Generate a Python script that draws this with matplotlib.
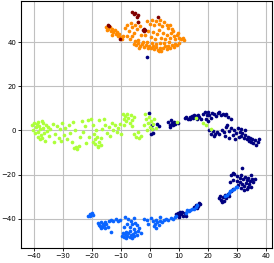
import numpy as np
from matplotlib import pyplot as plt

# embedding points per class (x, y)
navy_pts = [
    (-1.0, 33.5),
    (-0.2, 7.8), (0.6, 2.5), (0.85, 0.7), (2.4, 2.8), (3.3, 2.2), (0.4, -1.7), (1.2, -1.0),
    (6.3, 3.8), (6.8, 2.6), (7.2, 4.6), (7.6, 3.2), (8.0, 2.4), (8.4, 4.0), (8.7, 2.8), (7.0, 1.8), (9.7, 3.4),
    (12.0, 5.6), (12.6, 6.0), (13.2, 5.4), (13.8, 6.2), (14.4, 6.6), (15.0, 5.8), (15.4, 7.0), (15.8, 6.4),
    (16.2, 5.2), (16.6, 6.8), (17.0, 6.0), (17.6, 5.4), (14.0, 5.0),
    (18.4, 7.6), (19.0, 8.2), (19.6, 6.8), (20.2, 8.6), (20.6, 7.2), (21.0, 5.8), (21.6, 8.0), (22.2, 7.4),
    (22.8, 6.6), (23.4, 7.8), (24.0, 8.2), (24.6, 7.0), (25.2, 7.6), (25.8, 6.8), (26.4, 7.4), (27.0, 6.2),
    (28.0, 5.4), (19.4, 5.2), (20.0, 4.4),
    (20.4, 0.4), (21.0, -1.4), (21.8, -0.2), (22.4, -1.8), (23.2, -0.6), (24.0, -1.6), (24.8, 0.2), (25.6, -0.8),
    (26.2, 1.4), (26.8, 2.6), (27.4, -0.4), (28.0, 1.0), (28.6, -2.0), (29.2, 0.2), (29.8, -1.2), (30.4, 1.2),
    (31.0, -0.6), (31.6, -2.4), (32.0, -1.0), (32.4, -3.2), (33.0, -2.0), (33.4, -4.0), (33.8, -2.8),
    (34.2, -4.8), (34.6, -3.4), (35.0, -5.2), (35.4, -4.0), (35.8, -5.6), (36.2, -4.4), (36.6, -6.8),
    (37.2, -5.0), (37.6, -3.8), (30.8, -3.0), (29.4, -4.0), (31.4, 0.6), (33.0, 0.4), (27.2, -3.2),
    (26.0, -2.4), (22.0, -2.6),
    (31.7, -16.9), (28.8, -19.4), (29.0, -19.6), (30.2, -20.6), (31.0, -21.4), (31.6, -20.2), (32.2, -22.0),
    (32.8, -21.0), (33.4, -22.6), (34.0, -21.6), (34.6, -23.0), (35.2, -22.2), (35.8, -23.4), (36.4, -21.8),
    (31.2, -23.4), (32.0, -24.2), (32.6, -25.0), (33.2, -23.8), (33.8, -25.4), (34.4, -24.4), (35.0, -25.8),
    (30.6, -24.6), (31.4, -26.0), (32.4, -27.0), (33.6, -26.6), (30.0, -22.8), (28.6, -22.4), (28.2, -20.0),
    (34.8, -20.4), (27.7, -23.2),
    (24.0, -30.6), (24.6, -31.4), (25.2, -30.2), (25.6, -31.8), (26.0, -29.4), (26.4, -30.8), (27.0, -28.6),
    (27.4, -29.8), (24.4, -29.6), (25.0, -32.2), (28.0, -27.6), (28.6, -26.4),
    (9.6, -37.4), (10.0, -38.2), (10.4, -36.8), (10.8, -37.8), (11.2, -37.0), (11.6, -38.6), (12.0, -37.6),
    (10.2, -39.0), (12.4, -38.8), (9.2, -38.0), (15.4, -34.6), (16.0, -33.6), (16.6, -34.2), (17.0, -32.8),
    (17.4, -33.4), (16.2, -35.0),
]

blue_pts = [
    (-21.2, -38.6), (-20.6, -37.8), (-20.0, -37.4), (-19.8, -38.2), (-20.8, -38.9),
    (-17.8, -42.0), (-17.4, -42.8), (-17.0, -41.4), (-16.6, -43.6), (-16.2, -42.2), (-15.8, -43.0),
    (-15.4, -41.6), (-15.0, -42.6), (-14.6, -43.8), (-14.2, -41.0), (-16.8, -44.2), (-17.2, -43.2),
    (-15.6, -44.4), (-13.4, -46.2),
    (-13.4, -40.6), (-12.6, -41.0), (-11.8, -40.2), (-11.0, -40.8), (-10.2, -40.4), (-8.6, -39.2),
    (-7.6, -40.0), (-6.4, -40.8), (-5.6, -39.6),
    (-8.8, -43.6), (-7.8, -42.6), (-7.0, -43.8), (-6.2, -42.4), (-5.4, -44.6), (-4.6, -43.0), (-3.8, -44.2),
    (-3.2, -46.4), (-5.0, -41.8),
    (-9.6, -47.6), (-9.0, -48.4), (-8.6, -47.0), (-8.2, -48.8), (-7.8, -47.8), (-7.4, -46.4), (-7.0, -48.2),
    (-6.6, -47.2), (-6.2, -48.6), (-5.8, -46.8), (-5.4, -47.8), (-5.0, -46.2), (-4.6, -47.4), (-4.2, -45.6),
    (-8.4, -46.0), (-6.8, -45.4), (-9.2, -46.6),
    (-2.0, -40.0), (-1.0, -40.6), (0.4, -39.8), (1.0, -41.2), (1.4, -43.4), (1.8, -42.2), (2.2, -44.0),
    (2.6, -41.6), (3.0, -43.0), (3.6, -40.8), (4.2, -41.6), (4.8, -40.6), (5.6, -40.0), (6.4, -40.4),
    (7.2, -39.6), (8.0, -40.2), (8.6, -39.2), (3.4, -39.4), (2.0, -40.4), (-0.6, -42.2),
    (9.0, -38.8), (12.6, -37.4), (13.4, -36.6), (14.0, -36.0), (14.6, -35.4), (15.2, -35.6), (15.8, -34.8),
    (16.4, -33.6), (13.0, -36.2),
    (26.6, -29.2), (27.2, -28.4), (27.8, -27.6), (28.4, -27.0), (29.0, -26.4), (29.6, -25.8), (30.2, -25.4),
    (25.8, -29.8),
]

green_pts = [
    (-40.8, 2.6), (-40.0, 3.4), (-39.4, 1.5), (-39.0, 3.0), (-38.5, -0.5), (-38.2, 2.0), (-37.8, 0.8),
    (-37.5, -2.0), (-37.0, 3.2), (-36.8, 1.0), (-36.5, -1.2), (-36.0, 2.4), (-35.6, -0.2), (-35.2, 1.6),
    (-38.8, -2.8), (-38.0, -4.0), (-37.2, -3.2), (-36.2, -4.6), (-39.6, -1.2), (-40.3, 0.2), (-35.0, -2.6),
    (-34.5, 0.6), (-38.6, 4.0), (-37.4, 4.2),
    (-33.5, 3.0), (-32.8, -1.5), (-32.0, 2.2), (-31.5, -3.5), (-31.0, 0.5), (-30.4, 3.4), (-29.8, -2.0),
    (-29.2, 1.2), (-28.6, -4.0), (-28.0, 2.6), (-27.5, -1.0), (-27.0, -5.4), (-26.4, 3.8), (-25.8, 0.2),
    (-25.5, -7.6), (-25.0, -8.2), (-24.5, -7.2), (-24.2, -3.0), (-23.6, 4.2), (-23.0, -0.8), (-22.4, 2.0),
    (-22.0, -5.6), (-21.4, 4.6), (-21.0, -2.8), (-26.2, -8.0), (-30.8, -4.6), (-33.0, -5.4),
    (-20.2, 5.0), (-19.6, 2.6), (-19.4, -1.5), (-19.0, -4.0), (-18.8, -6.2), (-18.4, -2.8), (-18.0, -7.0),
    (-17.6, -5.0), (-17.4, 4.8), (-17.0, -3.2), (-16.8, -6.4), (-16.4, 0.6), (-16.0, 5.0), (-15.6, 2.4),
    (-19.8, -5.4), (-18.6, 0.4), (-17.8, -7.6),
    (-14.8, -1.0), (-14.2, 1.8), (-13.6, -2.4), (-13.0, 3.6), (-12.6, 0.4), (-12.0, 2.4), (-11.4, -0.6),
    (-11.0, 1.2), (-10.4, 3.0), (-10.0, -1.8),
    (-9.4, 7.4), (-9.0, 5.2), (-8.6, 6.6), (-8.2, 4.4), (-7.8, 7.6), (-7.4, 5.8), (-7.0, 3.6), (-6.6, 6.8),
    (-6.0, 4.8), (-5.6, 6.0), (-8.8, 2.4), (-6.2, 2.0),
    (-5.4, -1.6), (-4.8, -2.8), (-3.6, -3.2), (-3.0, -2.4), (-4.2, -0.6),
    (-1.6, 7.6), (-1.2, 5.4), (-0.8, 3.6), (-0.4, 6.2), (0.0, 1.8), (0.4, 4.2), (0.8, 0.6), (1.2, 2.8),
    (1.6, 5.0), (2.0, 1.0), (-1.0, 0.2), (-2.0, 2.6),
    (9.3, 3.7), (15.8, 5.5), (18.4, 3.4), (19.4, 2.6), (21.1, 0.7),
]

orange_pts = [
    (-15.0, 46.8), (-14.3, 46.2), (-13.8, 46.9), (-13.5, 45.3), (-13.0, 46.0), (-12.6, 44.6), (-12.2, 45.5),
    (-11.8, 43.8), (-11.3, 44.7), (-11.0, 42.9), (-10.6, 43.6), (-10.1, 42.2), (-9.6, 41.5), (-9.2, 42.8),
    (-14.8, 45.6), (-12.9, 43.2),
    (-8.5, 46.5), (-7.8, 47.8), (-7.2, 45.2), (-6.6, 48.6), (-6.0, 46.9), (-5.5, 44.3), (-5.0, 48.0),
    (-4.6, 46.0), (-4.1, 49.2), (-3.5, 47.2), (-3.0, 43.5), (-8.0, 43.0), (-7.0, 41.5), (-6.2, 42.8),
    (-1.0, 49.8), (0.0, 48.5), (0.6, 50.3), (1.5, 47.6), (2.2, 49.6), (3.0, 48.3), (3.6, 50.0), (4.3, 47.2),
    (5.0, 49.1), (5.8, 48.0), (6.4, 46.6), (7.0, 47.9), (7.6, 45.8),
    (-1.5, 43.2), (-0.8, 45.0), (0.3, 42.6), (1.0, 44.8), (1.8, 41.5), (2.5, 43.9), (3.2, 45.6), (3.8, 42.0),
    (4.6, 44.3), (5.3, 41.4), (6.0, 43.5), (6.8, 42.1), (7.4, 44.0), (8.2, 42.8), (8.8, 41.6), (9.4, 43.1),
    (10.0, 42.0), (10.6, 41.5), (11.3, 41.8), (11.8, 41.2), (8.0, 45.2), (9.6, 44.4), (-4.2, 41.0),
    (-2.5, 40.2), (-5.2, 40.5),
    (-5.5, 39.3), (-4.8, 38.6), (-4.0, 39.5), (-3.3, 38.2), (-2.6, 39.0), (-2.0, 37.8), (-1.4, 38.8),
    (-0.8, 37.5), (-0.2, 38.5), (0.4, 37.2), (1.0, 38.3), (1.6, 36.8), (2.2, 37.9), (2.8, 36.5), (3.4, 37.6),
    (4.0, 36.2), (4.6, 37.4), (5.2, 38.4), (5.8, 37.0), (6.4, 38.2), (7.0, 37.6), (7.6, 38.8), (8.2, 38.0),
    (8.8, 39.2), (9.4, 38.6), (10.0, 39.6), (0.8, 39.6), (2.0, 39.2), (3.5, 39.8), (-1.0, 40.0), (4.9, 39.5),
    (6.5, 39.9), (3.0, 35.9), (-3.8, 37.6),
]

darkred_pts = [
    (-6.3, 53.8), (-5.6, 52.9), (-5.0, 53.4), (-4.6, 51.4), (-4.2, 52.5), (-4.0, 49.2), (2.9, 51.4),
    (-14.6, 47.9), (-14.2, 47.3), (-10.3, 41.4),
    (-2.3, 45.6), (-1.9, 45.3), (-2.1, 45.9), (-1.8, 45.7),
]

classes = [
    (navy_pts, '#000080'),
    (blue_pts, '#0a64ff'),
    (green_pts, '#adff3a'),
    (orange_pts, '#ff8a00'),
    (darkred_pts, '#800000'),
]

fig = plt.figure(figsize=(2.74, 2.63), dpi=100)
ax = fig.add_axes([21 / 274, 14.7 / 263, 251.3 / 274, 247.3 / 263])
for pts, color in classes:
    pts = np.array(pts)
    ax.scatter(pts[:, 0], pts[:, 1], s=7, c=color, linewidths=0, zorder=3)

ax.set_xlim(-44.5, 42.3)
ax.set_ylim(-53.4, 58.7)
ax.set_xticks(np.arange(-40, 41, 10))
ax.set_yticks(np.arange(-40, 41, 20))
ax.grid(True, color='#c0c0c0', linewidth=0.8)
ax.set_axisbelow(True)
ax.tick_params(labelsize=5, length=2, width=0.6, pad=1.5)
for sp in ax.spines.values():
    sp.set_linewidth(0.8)

fig.savefig('out.png', dpi=100)
